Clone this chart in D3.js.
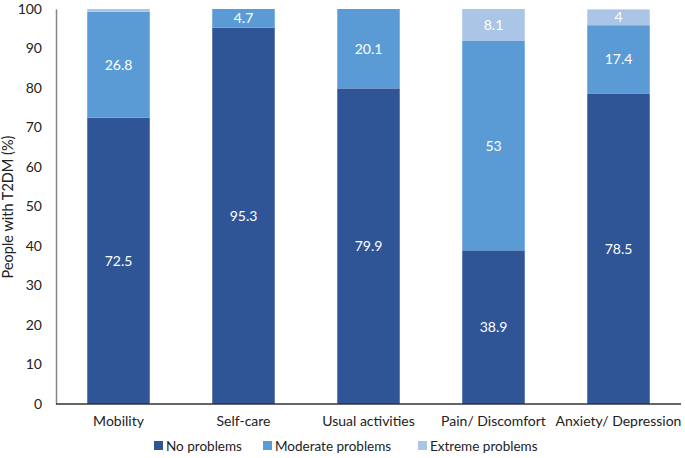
<!DOCTYPE html>
<html><head><meta charset="utf-8">
<script src="https://cdn.jsdelivr.net/npm/d3@7"></script>
<style>body{margin:0;background:#fff;} svg{display:block;font-family:Lato,"Open Sans",sans-serif;}</style>
</head><body>
<svg id="c" width="685" height="458"></svg>
<script>
const categories = ["Mobility","Self-care","Usual activities","Pain/ Discomfort","Anxiety/ Depression"];
const seriesNames = ["No problems","Moderate problems","Extreme problems"];
const noProblems = [72.5,95.3,79.9,38.9,78.5];
const moderateProblems = [26.8,4.7,20.1,53,17.4];
const extremeProblems = [0.7,0,0,8.1,4];
const yTicks = [0,10,20,30,40,50,60,70,80,90,100];
const colors = ["#2F5597","#5B9BD5","#ABC5E6"];
const labelMin = 1;

const svg = d3.select("#c");
const x = d3.scaleBand().domain(categories).range([56,681]).paddingInner(0.5).paddingOuter(0.25);
const y = d3.scaleLinear().domain([0,100]).range([404,9]);

const rows = categories.map((c,i)=>({cat:c, "No problems":noProblems[i], "Moderate problems":moderateProblems[i], "Extreme problems":extremeProblems[i]}));
const stack = d3.stack().keys(seriesNames)(rows);

// y axis
const ya = svg.append("g").attr("transform","translate(56,0)").call(d3.axisLeft(y).tickValues(yTicks).tickSize(0).tickPadding(14));
ya.select(".domain").attr("stroke","#868686").attr("stroke-width",1.5);
ya.selectAll("text").attr("font-size",14).attr("fill","#222").attr("font-family","Lato,'Open Sans',sans-serif");

stack.forEach((s,si)=>{
  const g = svg.append("g");
  g.selectAll("rect").data(s).join("rect")
    .attr("x",d=>x(d.data.cat)).attr("width",x.bandwidth())
    .attr("y",d=>y(d[1])).attr("height",d=>y(d[0])-y(d[1]))
    .attr("fill",colors[si]);
  g.selectAll("text").data(s.filter(d=>d[1]-d[0]>=labelMin)).join("text")
    .attr("x",d=>x(d.data.cat)+x.bandwidth()/2)
    .attr("y",d=>(y(d[0])+y(d[1]))/2)
    .attr("dy","0.35em").attr("text-anchor","middle")
    .attr("fill","#fff").attr("font-size",14)
    .text(d=>d3.format("")(+(d[1]-d[0]).toFixed(1)));
});

// x axis
const xa = svg.append("g").attr("transform","translate(0,404)").call(d3.axisBottom(x).tickSize(0).tickPadding(12));
xa.select(".domain").attr("stroke","#333").attr("stroke-width",1.5).attr("d","M56,0H681");
xa.selectAll("text").attr("font-size",14).attr("fill","#222").attr("font-family","Lato,'Open Sans',sans-serif");

// y label
svg.append("text").attr("transform","translate(13,207) rotate(-90)").attr("text-anchor","middle")
  .attr("font-size",14.5).attr("fill","#222").text("People with T2DM (%)");

// legend
const legX = [154,263,418];
const lg = svg.append("g");
seriesNames.forEach((n,i)=>{
  lg.append("rect").attr("x",legX[i]).attr("y",441).attr("width",9).attr("height",9).attr("fill",colors[i]);
  lg.append("text").attr("x",legX[i]+12).attr("y",446).attr("dy","0.35em").attr("font-size",13.5).attr("fill","#222").text(n);
});
</script>
</body></html>
